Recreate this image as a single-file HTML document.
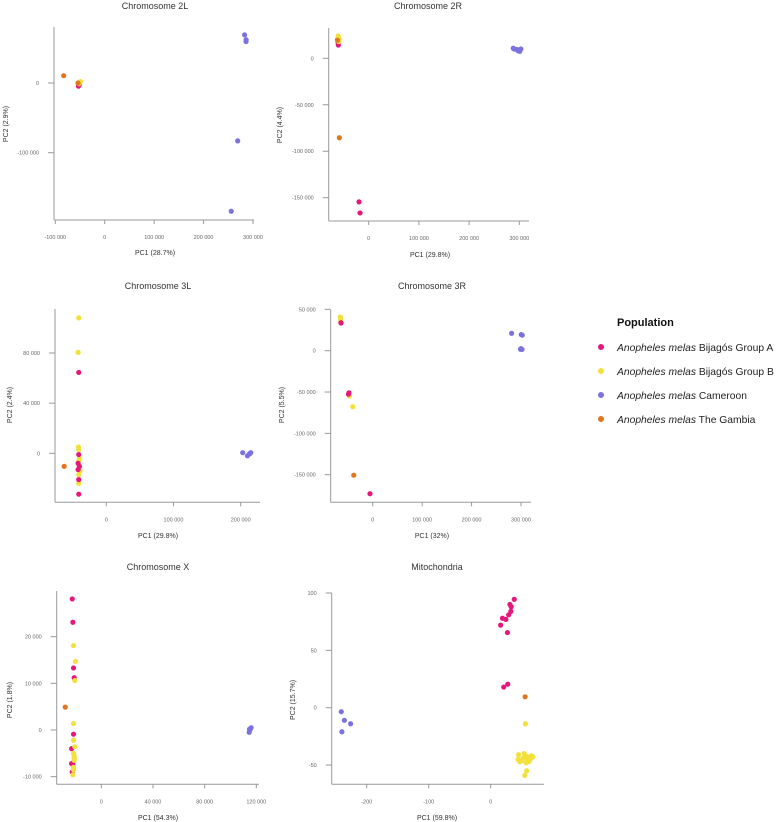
<!DOCTYPE html>
<html><head><meta charset="utf-8"><style>
body{margin:0;background:#fff;width:784px;height:822px;overflow:hidden;font-family:"Liberation Sans",sans-serif}
svg{display:block}
</style></head><body>
<svg id="fig" width="784" height="822" viewBox="0 0 784 822" xmlns="http://www.w3.org/2000/svg">
<g id="legend">
<text x="617" y="326" font-size="11" font-weight="bold" fill="#111">Population</text>
<g><circle cx="601" cy="347" r="3" fill="#E6177A"/><text x="617" y="351" font-size="10.3" fill="#222"><tspan font-style="italic">Anopheles melas</tspan> Bijagós Group A</text></g>
<g><circle cx="601" cy="371" r="3" fill="#F2E13A"/><text x="617" y="375" font-size="10.3" fill="#222"><tspan font-style="italic">Anopheles melas</tspan> Bijagós Group B</text></g>
<g><circle cx="601" cy="395" r="3" fill="#7B72E0"/><text x="617" y="399" font-size="10.3" fill="#222"><tspan font-style="italic">Anopheles melas</tspan> Cameroon</text></g>
<g><circle cx="601" cy="419" r="3" fill="#E0761E"/><text x="617" y="423" font-size="10.3" fill="#222"><tspan font-style="italic">Anopheles melas</tspan> The Gambia</text></g>
</g>
</svg>
<script>
const colors = ["#E6177A","#F2E13A","#7B72E0","#E0761E"];
// groups: 0=Group A, 1=Group B, 2=Cameroon, 3=Gambia
const pc1_2L = [-52000,-53000,-51000,-50000,-49000,-52000,-51000,-83000,-54000,283000,286000,286000,269000,256000];
const pc2_2L = [-3000,-4500,-2000,1000,2000,-1000,0,10500,0,69000,62000,59500,-83000,-184000];
const grp_2L = [0,0,0,1,1,1,1,3,3,2,2,2,2,2];
const xt_2L = [-100000,0,100000,200000,300000];
const yt_2L = [0,-100000];

const pc1_2R = [-62000,-61000,-60500,-19300,-17300,-61000,-60000,-60000,-59000,-62000,-58500,288000,290000,295000,299500,301000,303000,298000];
const pc2_2R = [20000,17000,14300,-154500,-166400,24000,22000,18000,21000,19500,-85500,10800,10000,9500,9000,7500,10000,8000];
const grp_2R = [0,0,0,0,0,1,1,1,1,3,3,2,2,2,2,2,2,2];
const xt_2R = [0,100000,200000,300000];
const yt_2R = [0,-50000,-100000,-150000];

const pc1_3L = [-41000,-42000,-41500,-41000,-40000,-41000,-40000,-39000,-41000,-41000,-41000,-41000,-42000,-42000,-41000,-41000,-40000,-62700,203000,210000,213000,215000,214000];
const pc2_3L = [108000,80500,5000,3000,-4000,-6000,-10000,-14000,-17000,-24000,64500,-1000,-8000,-13000,-21000,-32600,-10500,-10400,500,-2000,-500,500,0];
const grp_3L = [1,1,1,1,1,1,1,1,1,1,0,0,0,0,0,0,0,3,2,2,2,2,2];
const xt_3L = [0,100000,200000];
const yt_3L = [80000,40000,0];

const pc1_3R = [-65500,-65000,-47000,-40400,-64500,-38400,-64000,-48000,-49000,-5500,281000,300500,302500,299000,302000,300000];
const pc2_3R = [40800,38000,-55000,-67800,34000,-150600,33500,-51000,-52500,-173000,21000,19500,18800,1700,1500,2500];
const grp_3R = [1,1,1,1,3,3,0,0,0,0,2,2,2,2,2,2];
const xt_3R = [0,100000,200000,300000];
const yt_3R = [50000,0,-50000,-100000,-150000];

const pc1_X = [-22500,-22000,-21500,-21000,-21500,-23000,-23000,-22000,-22500,-21500,-20000,-20500,-21500,-21500,-20500,-21500,-21000,-21000,-21000,-21500,-22000,-21500,-27900,114500,115000,115500,116000,114800];
const pc2_X = [28100,23100,13300,11200,-900,-4000,-7200,-7400,-9000,18100,14700,10600,1400,-2200,-3600,-5000,-5500,-6000,-6500,-8000,-9600,-8500,4900,-500,0,300,500,200];
const grp_X = [0,0,0,0,0,0,0,0,0,1,1,1,1,1,1,1,1,1,1,1,1,1,3,2,2,2,2,2];
const xt_X = [0,40000,80000,120000];
const yt_X = [20000,10000,0,-10000];

const pc1_M = [-241,-236,-226,-240,38,31,33,32.5,29,19,24.5,16,27,27.5,21,55.5,56,45,44,47,54,56,58,60,62,64,66,68,57,61,63,58,55,52,50];
const pc2_M = [-3.5,-11,-14,-21,94.5,90,88,84,81,78,77,72,65.5,20.5,18,9.5,-14,-41,-45,-47,-40,-42,-44,-43,-45,-44,-42,-43,-48,-47,-46,-55,-59,-44,-46];
const grp_M = [2,2,2,2,0,0,0,0,0,0,0,0,0,0,0,3,1,1,1,1,1,1,1,1,1,1,1,1,1,1,1,1,1,1,1];
const xt_M = [-200,-100,0];
const yt_M = [100,50,0,-50];

const NS = "http://www.w3.org/2000/svg";
const svg = document.getElementById('fig');
function fmt(v){ return v===0?'0':(v<0?'-':'')+String(Math.abs(v)).replace(/\B(?=(\d{3})+(?!\d))/g,' '); }
function mk(tag, attrs, parent){ const e=document.createElementNS(NS,tag); for(const k in attrs) e.setAttribute(k,attrs[k]); parent.appendChild(e); return e; }

function panel(cfg, xs, ys, gs, xt, yt){
  const g = mk('g',{},svg);
  
  
  const sx = v => cfg.xp0 + (v-cfg.xv0)*(cfg.xp1-cfg.xp0)/(cfg.xv1-cfg.xv0);
  const sy = v => cfg.yp0 + (v-cfg.yv0)*(cfg.yp1-cfg.yp0)/(cfg.yv1-cfg.yv0);
  const t = mk('text',{x:cfg.tx,y:cfg.ty,'font-size':9,'text-anchor':'middle',fill:'#333'},g); t.textContent=cfg.title;
  
  
  const ya = mk('line',{x1:cfg.L,y1:cfg.T,x2:cfg.L,y2:cfg.B,stroke:'#999','stroke-width':1},g);
  
  
  const xa = mk('line',{x1:cfg.L,y1:cfg.B,x2:cfg.R,y2:cfg.B,stroke:'#999','stroke-width':1},g);
  
  
  xt.forEach(v=>{ const p=sx(v);
    mk('line',{x1:p,y1:cfg.B,x2:p,y2:cfg.B+4,stroke:'#999'},g);
    const l=mk('text',{x:p,y:cfg.B+19,'font-size':5.5,'text-anchor':'middle',fill:'#666'},g); l.textContent=fmt(v);
    
    
  });
  yt.forEach(v=>{ const p=sy(v);
    mk('line',{x1:cfg.L-6,y1:p,x2:cfg.L,y2:p,stroke:'#999'},g);
    const l=mk('text',{x:cfg.L-15,y:p+2,'font-size':5.5,'text-anchor':'end',fill:'#666'},g); l.textContent=fmt(v);
    
    
  });
  const xl=mk('text',{x:cfg.xlx,y:cfg.xly,'font-size':7,'text-anchor':'middle',fill:'#333'},g); xl.textContent=cfg.xlab;
  
  
  const yl=mk('text',{x:0,y:0,'font-size':7,'text-anchor':'middle',fill:'#333',transform:`translate(${cfg.ylx},${cfg.yly}) rotate(-90)`},g); yl.textContent=cfg.ylab;
  
  
  xs.forEach((v,i)=>{
    const c=mk('circle',{cx:sx(v),cy:sy(ys[i]),r:2.6,fill:colors[gs[i]]},g);
    
    
  });
}

panel({id:'panel-chromosome-2l',title:'Chromosome 2L',tx:155,ty:9,L:54,R:254,T:27,B:220,xv0:0,xp0:104.7,xv1:300000,xp1:253,yv0:0,yp0:83,yv1:-100000,yp1:152.7,xlab:'PC1 (28.7%)',xlx:155,xly:255,ylab:'PC2 (2.9%)',ylx:8,yly:124},pc1_2L,pc2_2L,grp_2L,xt_2L,yt_2L);
panel({id:'panel-chromosome-2r',title:'Chromosome 2R',tx:428,ty:9,L:328.7,R:529,T:28,B:221,xv0:0,xp0:368.7,xv1:300000,xp1:519.3,yv0:0,yp0:58.3,yv1:-150000,yp1:197.7,xlab:'PC1 (29.8%)',xlx:430,xly:257,ylab:'PC2 (4.4%)',ylx:282,yly:125},pc1_2R,pc2_2R,grp_2R,xt_2R,yt_2R);
panel({id:'panel-chromosome-3l',title:'Chromosome 3L',tx:158,ty:289,L:55,R:260,T:309,B:502.3,xv0:0,xp0:106.3,xv1:200000,xp1:240.7,yv0:0,yp0:453.3,yv1:80000,yp1:353,xlab:'PC1 (29.8%)',xlx:158,xly:538,ylab:'PC2 (2.4%)',ylx:12,yly:405},pc1_3L,pc2_3L,grp_3L,xt_3L,yt_3L);
panel({id:'panel-chromosome-3r',title:'Chromosome 3R',tx:432,ty:289,L:330.7,R:531,T:309.7,B:502.3,xv0:0,xp0:372.7,xv1:300000,xp1:521,yv0:0,yp0:350.7,yv1:-150000,yp1:474.7,xlab:'PC1 (32%)',xlx:432,xly:538,ylab:'PC2 (5.5%)',ylx:284,yly:405},pc1_3R,pc2_3R,grp_3R,xt_3R,yt_3R);
panel({id:'panel-chromosome-x',title:'Chromosome X',tx:158,ty:570,L:56.7,R:259,T:591,B:784.3,xv0:0,xp0:101.3,xv1:120000,xp1:256.3,yv0:0,yp0:730,yv1:20000,yp1:636.7,xlab:'PC1 (54.3%)',xlx:158,xly:820,ylab:'PC2 (1.8%)',ylx:12,yly:700},pc1_X,pc2_X,grp_X,xt_X,yt_X);
panel({id:'panel-mitochondria',title:'Mitochondria',tx:437,ty:570,L:331.7,R:544,T:593,B:784.3,xv0:0,xp0:490.7,xv1:-200,xp1:366.7,yv0:0,yp0:707.7,yv1:100,yp1:593,xlab:'PC1 (59.8%)',xlx:437,xly:820,ylab:'PC2 (15.7%)',ylx:295,yly:700},pc1_M,pc2_M,grp_M,xt_M,yt_M);
</script>
</body></html>
